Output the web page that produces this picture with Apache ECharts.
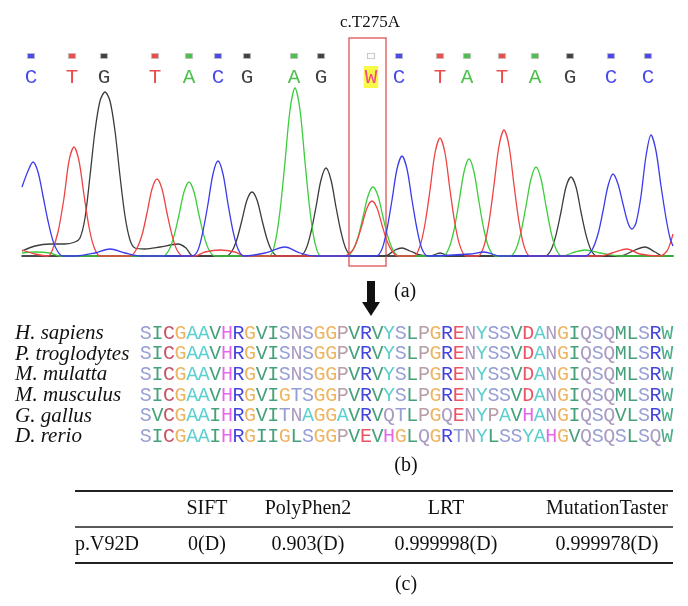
<!DOCTYPE html>
<html><head><meta charset="utf-8">
<script src="https://cdn.jsdelivr.net/npm/echarts@6/dist/echarts.min.js"></script>
<style>html,body{margin:0;padding:0;background:#fff}#c{width:688px;height:606px}</style>
</head><body><div id="c"></div>
<script>
// ---------- chromatogram data (x position, signal height) ----------
const baseCalls = ['C','T','G','T','A','C','G','A','G','W','C','T','A','T','A','G','C','C'];
const basePositions = [31,72,104,155,189,218,247,294,321,371,399,440,467,502,535,570,611,648];
const variantIndex = 9;
const variantLabel = 'c.T275A';

const traceC = [[22,69],[28,85],[33,94],[38,84],[43,60],[48,35],[53,15],[58,4],[63,0],[75,0],[95,3],[110,7],[125,3],[140,0],
  [192,0],[198,6],[203,25],[208,52],[213,82],[218,95],[223,82],[228,52],[233,25],[238,7],[244,0],[265,3],[285,9],[300,3],[315,0],
  [376,0],[382,7],[387,27],[392,56],[397,87],[402,100],[407,87],[412,56],[417,27],[422,7],[428,0],[470,2],[484,4],[500,0],
  [585,0],[592,6],[598,22],[603,45],[608,70],[613,82],[618,72],[623,52],[628,33],[632,27],[636,33],[641,60],[646,100],[651,121],[656,105],[661,70],[666,38],[670,18],[673,10]];
const traceT = [[22,6],[35,2],[48,0],[52,5],[58,24],[64,58],[69,95],[74,109],[79,95],[84,61],[89,29],[94,9],[100,0],
  [130,0],[136,6],[142,21],[147,43],[152,67],[157,77],[162,67],[167,43],[172,21],[177,6],[183,0],[195,0],[205,4],[220,6],[235,4],[245,0],
  [344,0],[352,5],[357,15],[362,31],[367,48],[372,55],[377,48],[382,31],[387,15],[392,5],[398,0],
  [414,0],[420,10],[425,32],[430,66],[435,103],[440,118],[445,103],[450,66],[455,32],[460,10],[466,0],
  [478,0],[484,10],[489,34],[494,71],[499,110],[504,126],[509,110],[514,71],[519,34],[524,10],[530,0],
  [600,0],[612,3],[627,7],[640,2],[660,0],[667,5],[670,12],[673,22]];
const traceA = [[22,3],[35,4],[50,3],[60,0],[163,0],[169,6],[174,20],[179,41],[184,64],[189,74],[194,64],[199,41],[204,20],[209,6],[215,0],
  [269,0],[275,13],[280,45],[285,94],[290,146],[295,168],[300,146],[305,94],[310,45],[315,13],[321,0],
  [347,0],[353,6],[358,19],[363,39],[368,60],[373,69],[378,60],[383,39],[388,19],[393,6],[399,0],
  [443,0],[449,8],[454,26],[459,54],[464,84],[469,97],[474,84],[479,54],[484,26],[489,8],[495,0],
  [510,0],[516,7],[521,24],[526,50],[531,77],[536,89],[541,77],[546,50],[551,24],[556,7],[562,0],
  [575,4],[585,6],[600,3],[620,0],[673,0]];
const traceG = [[22,5],[35,10],[50,12],[65,12],[75,14],[80,18],[85,38],[90,80],[95,125],[100,155],[105,164],[110,155],[115,125],[120,80],[125,40],[130,16],[135,8],[145,7],[160,9],[178,12],[186,8],[193,0],
  [226,0],[232,5],[237,17],[242,36],[247,56],[252,64],[257,56],[262,36],[267,17],[272,5],[278,0],
  [300,0],[306,7],[311,24],[316,49],[321,76],[326,88],[331,76],[336,49],[341,24],[346,7],[352,0],
  [385,0],[395,6],[402,8],[410,5],[420,1],[430,0],[440,3],[450,0],
  [545,0],[551,6],[556,21],[561,44],[566,69],[571,79],[576,69],[581,44],[586,21],[591,6],[597,0],
  [620,0],[635,6],[645,9],[655,4],[663,0],[673,0]];

// ---------- alignment data ----------
const species = ['H. sapiens','P. troglodytes','M. mulatta','M. musculus','G. gallus','D. rerio'];
const sequences = [
  'SICGAAVHRGVISNSGGPVRVYSLPGRENYSSVDANGIQSQMLSRW',
  'SICGAAVHRGVISNSGGPVRVYSLPGRENYSSVDANGIQSQMLSRW',
  'SICGAAVHRGVISNSGGPVRVYSLPGRENYSSVDANGIQSQMLSRW',
  'SICGAAVHRGVIGTSGGPVRVYSLPGRENYSSVDANGIQSQMLSRW',
  'SVCGAAIHRGVITNAGGAVRVQTLPGQENYPAVHANGIQSQVLSRW',
  'SICGAAIHRGIIGLSGGPVEVHGLQGRTNYLSSYAHGVQSQSLSQW'
];

// ---------- table data ----------
const tableHeader = ['', 'SIFT', 'PolyPhen2', 'LRT', 'MutationTaster'];
const tableRow = ['p.V92D', '0(D)', '0.903(D)', '0.999998(D)', '0.999978(D)'];
const panelLabels = ['(a)', '(b)', '(c)'];

// ---------- styles ----------
const baseColor = {C:'#1a1ae6', T:'#e62020', G:'#111111', A:'#1fb01f', W:'#f0209a'};
const squareColor = {C:'#1a1ae6', T:'#e62020', G:'#111111', A:'#1fb01f', W:'#ffffff'};
const residueColor = {
  S:'#7d86c8', T:'#7d86c8',
  I:'#17895a', V:'#17895a', L:'#17895a', M:'#17895a', W:'#1f9a6a',
  C:'#b5283c', G:'#e8a33a', A:'#36c4c4', Y:'#36c0c0',
  H:'#e040e8', R:'#1414d4', E:'#e8283c', D:'#e8283c',
  N:'#9582b2', Q:'#9582b2', P:'#a68690'
};
const serif = 'Liberation Serif';
const mono = 'Liberation Mono';

const chart = echarts.init(document.getElementById('c'), null, {renderer:'canvas'});

function trace(data, color) {
  return {type:'line', xAxisIndex:0, yAxisIndex:0, data, smooth:0.3, showSymbol:false,
    symbol:'none', lineStyle:{color, width:1.3}, itemStyle:{color}, silent:true, z:2};
}

const vx = basePositions[variantIndex];

const seqData = [];
sequences.forEach((s, r) => {
  for (let c = 0; c < s.length; c++) {
    const ch = s[c];
    seqData.push({value:[c, r], name: ch, label:{color: residueColor[ch] || '#555'}});
  }
});

// table layout
const colCenters = [null, 207, 308, 446, 607];
const tableLeft = 75, tableRight = 673;
const lineYs = [491, 527, 563];
const graphics = [];
lineYs.forEach((y, i) => graphics.push({type:'line', shape:{x1:tableLeft, y1:y, x2:tableRight, y2:y},
  style:{stroke:'#222', lineWidth: i === 1 ? 1.6 : 2}}));
tableHeader.forEach((t, i) => { if (t) graphics.push({type:'text', x: colCenters[i], y: 509,
  style:{text:t, font:'20px ' + serif, fill:'#111', textAlign:'center', textVerticalAlign:'middle'}}); });
tableRow.forEach((t, i) => graphics.push({type:'text', x: i === 0 ? tableLeft : colCenters[i], y: 545,
  style:{text:t, font:'20px ' + serif, fill:'#111', textAlign: i === 0 ? 'left' : 'center', textVerticalAlign:'middle'}}));
// panel labels
const labelPos = [[394, 292, 'left'], [406, 466, 'center'], [406, 585, 'center']];
panelLabels.forEach((t, i) => graphics.push({type:'text', x: labelPos[i][0], y: labelPos[i][1],
  style:{text:t, font:'20px ' + serif, fill:'#111', textAlign: labelPos[i][2], textVerticalAlign:'middle'}}));
// variant label
graphics.push({type:'text', x: vx - 1, y: 23, style:{text: variantLabel, font:'17px ' + serif, fill:'#111', textAlign:'center', textVerticalAlign:'middle'}});
// arrow
graphics.push({type:'polygon', shape:{points:[[vx-4,281],[vx+4,281],[vx+4,302],[vx+9,302],[vx,316],[vx-9,302],[vx-4,302]]},
  style:{fill:'#111'}});

chart.setOption({
  animation:false,
  backgroundColor:'#fff',
  grid:[
    {left:22, top:26, width:651, height:242},
    {left:140, top:323, width:533, height:124}
  ],
  xAxis:[
    {gridIndex:0, type:'value', min:22, max:673, axisLine:{show:true, onZero:true, lineStyle:{color:'#111', width:1.5}},
      axisTick:{show:false}, axisLabel:{show:false}, splitLine:{show:false}},
    {gridIndex:1, type:'category', data: sequences[0].split('').map((_, i) => i), show:false}
  ],
  yAxis:[
    {gridIndex:0, type:'value', min:-12, max:230, show:false, splitLine:{show:false}},
    {gridIndex:1, type:'category', data: species, inverse:true, axisLine:{show:false}, axisTick:{show:false},
      splitLine:{show:false},
      axisLabel:{show:true, interval:0, align:'left', margin:125, fontFamily:serif, fontStyle:'italic', fontSize:21, color:'#111'}}
  ],
  series:[
    trace(traceG, '#3c3c3c'),
    trace(traceA, '#3ccc3c'),
    trace(traceT, '#ee4444'),
    trace(traceC, '#3b3bee'),
    {type:'scatter', xAxisIndex:0, yAxisIndex:0, symbol:'rect', symbolSize:[7,5], clip:false, silent:true,
      data: basePositions.map((x, i) => ({value:[x, 200], itemStyle:{color: squareColor[baseCalls[i]], borderColor:'#bdbdbd', borderWidth:1}})),
      markArea:{silent:true, itemStyle:{color:'rgba(0,0,0,0)', borderColor:'#e46a6a', borderWidth:1.5},
        data:[[{coord:[vx-22, -10]}, {coord:[vx+15, 218]}]]}},
    {type:'scatter', xAxisIndex:0, yAxisIndex:0, symbolSize:0, clip:false, silent:true,
      data: basePositions.map((x, i) => {
        const b = baseCalls[i];
        const lab = {color: baseColor[b]};
        if (i === variantIndex) { lab.backgroundColor = '#f7f71a'; lab.padding = [1, 1, 0, 1]; }
        return {value:[x, 179], name:b, label:lab};
      }),
      label:{show:true, position:'inside', formatter:'{b}', fontFamily:mono, fontSize:21}},
    {type:'scatter', xAxisIndex:1, yAxisIndex:1, symbolSize:0, silent:true, data: seqData,
      label:{show:true, position:'inside', formatter:'{b}', fontFamily:mono, fontSize:20}}
  ],
  graphic: graphics
});
</script></body></html>
